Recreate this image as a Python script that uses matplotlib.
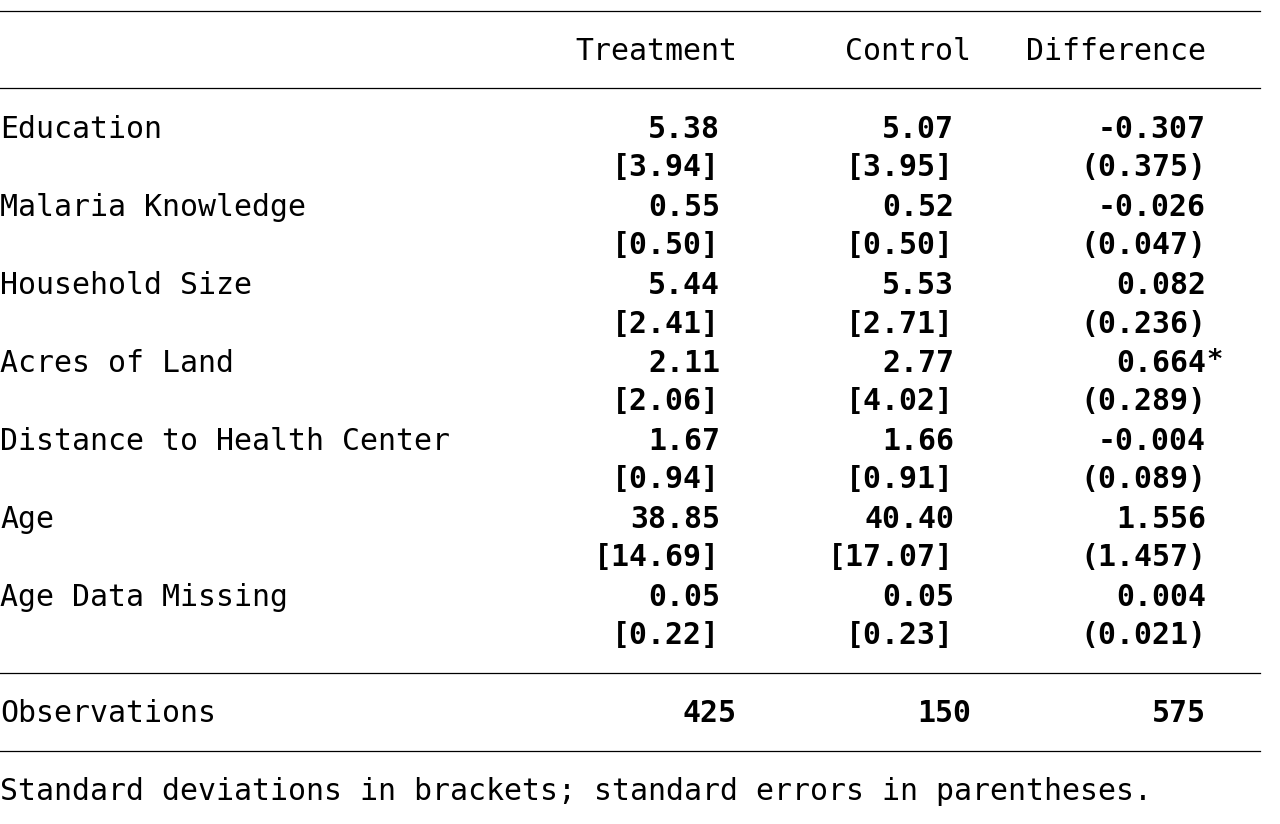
import matplotlib.pyplot as plt
from matplotlib.lines import Line2D

variables = ['Education', 'Malaria Knowledge', 'Household Size', 'Acres of Land',
             'Distance to Health Center', 'Age', 'Age Data Missing']
treat_mean = ['5.38', '0.55', '5.44', '2.11', '1.67', '38.85', '0.05']
treat_sd = ['3.94', '0.50', '2.41', '2.06', '0.94', '14.69', '0.22']
control_mean = ['5.07', '0.52', '5.53', '2.77', '1.66', '40.40', '0.05']
control_sd = ['3.95', '0.50', '2.71', '4.02', '0.91', '17.07', '0.23']
diff = ['-0.307', '-0.026', '0.082', '0.664', '-0.004', '1.556', '0.004']
diff_se = ['0.375', '0.047', '0.236', '0.289', '0.089', '1.457', '0.021']
stars = ['', '', '', '*', '', '', '']
observations = ['425', '150', '575']
headers = ['Treatment', 'Control', 'Difference']
note = 'Standard deviations in brackets; standard errors in parentheses.'

W, H = 1280, 824
fig = plt.figure(figsize=(W / 100, H / 100), dpi=100)
plt.rcParams['font.family'] = ['DejaVu Sans Mono']
FS = 21.5


def put(x, y, s, ha='left', bold=False, size=FS):
    fig.text(x / W, 1 - (y + 1) / H, s, ha=ha, va='center', fontsize=size,
             fontweight='bold' if bold else 'normal', color='black')


def hline(y):
    fig.add_artist(Line2D([0, 1260 / W], [1 - y / H, 1 - y / H],
                          transform=fig.transFigure, color='black', lw=0.9))


for y in [11, 88, 673, 751]:
    hline(y)

# header
header_right = [737, 971, 1206]
for h, x in zip(headers, header_right):
    put(x, 50, h, ha='right')

col_right = [720, 954, 1206]
y0, step = 128, 39
for i, name in enumerate(variables):
    ym = y0 + 2 * i * step
    ys = ym + step
    put(0, ym, name)
    put(col_right[0], ym, treat_mean[i], ha='right', bold=True)
    put(col_right[1], ym, control_mean[i], ha='right', bold=True)
    put(col_right[2], ym, diff[i], ha='right', bold=True)
    if stars[i]:
        put(col_right[2], ym - 2, stars[i], bold=True, size=FS - 2)
    put(col_right[0], ys, '[' + treat_sd[i] + ']', ha='right', bold=True)
    put(col_right[1], ys, '[' + control_sd[i] + ']', ha='right', bold=True)
    put(col_right[2], ys, '(' + diff_se[i] + ')', ha='right', bold=True)

put(0, 713, 'Observations')
for v, x in zip(observations, header_right):
    put(x, 713, v, ha='right', bold=True)

put(0, 791, note)

fig.savefig('out.png', dpi=100)
